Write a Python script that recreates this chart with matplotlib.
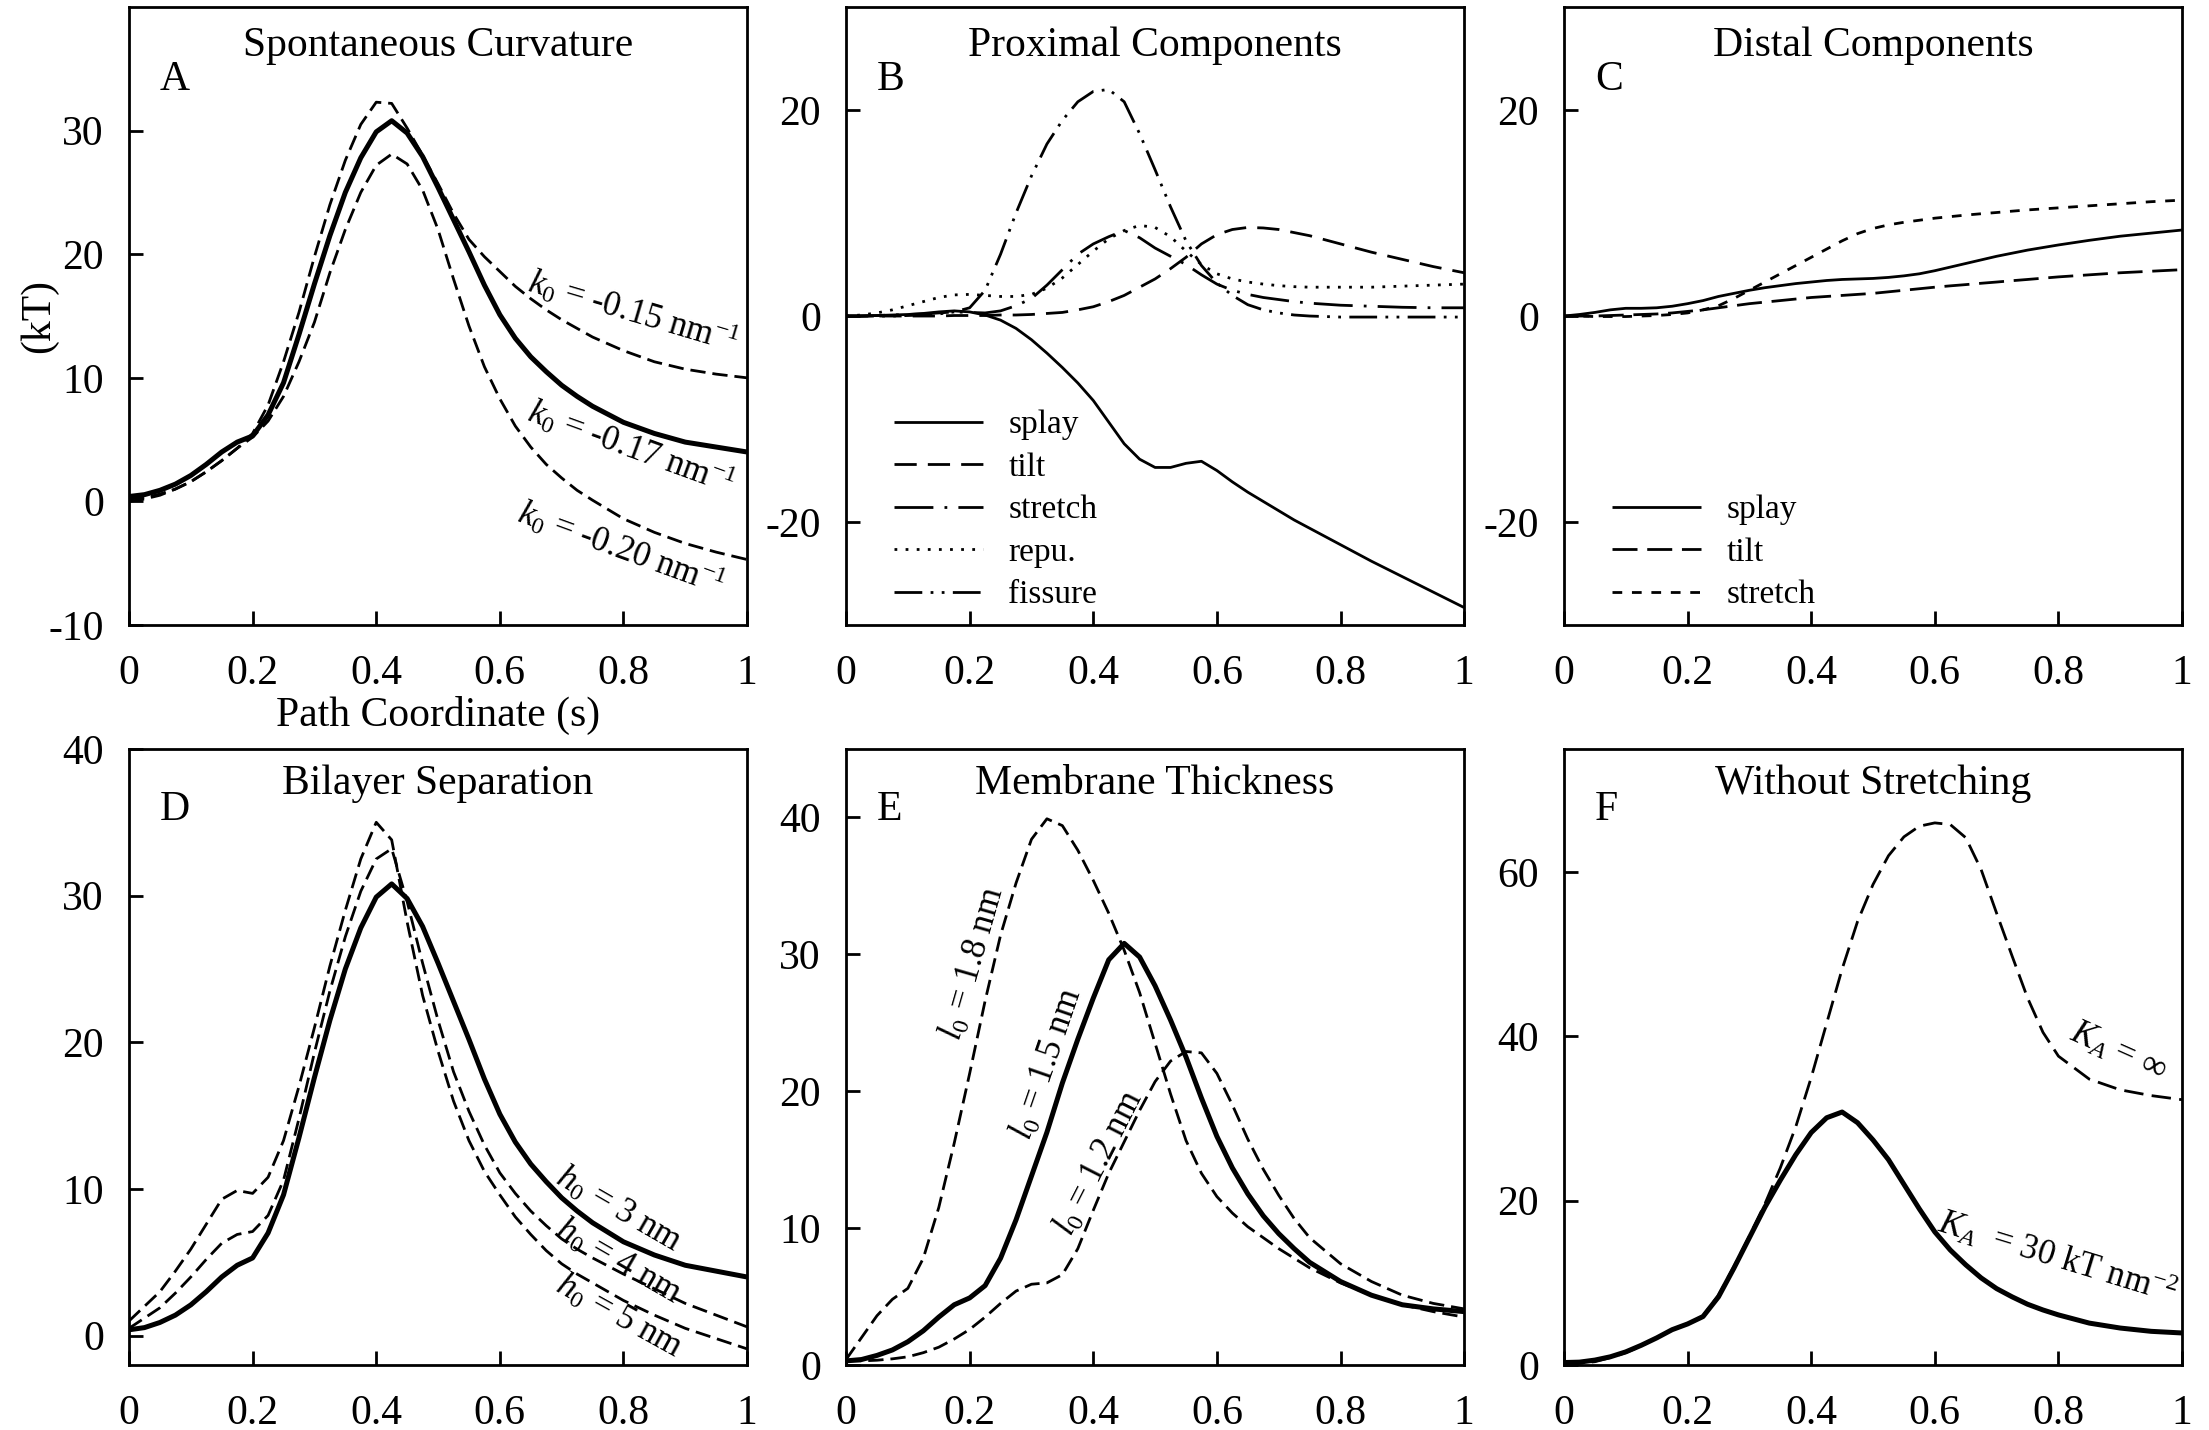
import matplotlib
matplotlib.use("Agg")
import matplotlib.pyplot as plt

plt.rcParams.update({
    "font.family": "Liberation Serif",
    "mathtext.fontset": "custom",
    "mathtext.rm": "Liberation Serif",
    "mathtext.it": "Liberation Serif:italic",
    "mathtext.bf": "Liberation Serif:bold",
    "lines.scale_dashes": False,
    "axes.linewidth": 2.0,
    "lines.solid_capstyle": "butt",
    "lines.dash_capstyle": "butt",
    "lines.solid_joinstyle": "round",
})

# ---------------------------------------------------------------- data
# path coordinate grid shared by panels A-E
s = [0, .025, .05, .075, .1, .125, .15, .175, .2, .225, .25, .275, .3, .325,
     .35, .375, .4, .425, .45, .475, .5, .525, .55, .575, .6, .625, .65, .675,
     .7, .725, .75, .8, .85, .9, .95, 1.0]

# A / D: reference free-energy profile (k0 = -0.17 nm^-1, h0 = 3 nm)
ref = [0.4, 0.55, 0.9, 1.4, 2.1, 3.0, 4.0, 4.8, 5.3, 7.0, 9.6, 13.5, 17.6, 21.5,
       25.0, 27.8, 29.9, 30.8, 29.8, 27.9, 25.4, 22.8, 20.2, 17.5, 15.1, 13.2, 11.7, 10.5,
       9.4, 8.5, 7.7, 6.4, 5.5, 4.8, 4.4, 4.0]
k015 = [0.0, 0.2, 0.5, 1.0, 1.6, 2.4, 3.3, 4.3, 5.5, 7.8, 11.3, 15.3, 19.8, 24.0,
        27.6, 30.5, 32.3, 32.2, 30.2, 28.0, 25.7, 23.3, 21.2, 19.8, 18.6, 17.4, 16.4, 15.5,
        14.7, 14.0, 13.3, 12.2, 11.3, 10.7, 10.3, 10.0]
k020 = [0.2, 0.3, 0.6, 1.0, 1.6, 2.4, 3.3, 4.3, 5.2, 6.5, 8.5, 11.3, 14.5, 18.5,
        22.0, 25.0, 27.2, 28.1, 27.3, 25.2, 22.0, 18.0, 14.2, 10.9, 8.3, 6.1, 4.4, 3.0,
        1.9, 0.9, 0.1, -1.4, -2.5, -3.4, -4.1, -4.7]

# B: proximal components
prox_splay = [0, 0, 0.05, 0.1, 0.15, 0.25, 0.4, 0.5, 0.4, 0.1, -0.4, -1.2, -2.3, -3.6,
              -5.0, -6.5, -8.2, -10.3, -12.4, -13.9, -14.7, -14.7, -14.3, -14.1, -15.0, -16.1, -17.1, -18.0,
              -18.9, -19.8, -20.6, -22.2, -23.8, -25.3, -26.8, -28.3]
prox_tilt = [0, 0, 0, 0, 0, 0, 0, 0.05, 0.05, 0.05, 0.1, 0.1, 0.15, 0.25,
             0.35, 0.6, 0.9, 1.4, 2.0, 2.8, 3.6, 4.6, 5.7, 7.0, 7.9, 8.4, 8.6, 8.55,
             8.4, 8.1, 7.8, 7.0, 6.2, 5.5, 4.8, 4.2]
prox_stretch = [0, 0, 0.05, 0.1, 0.15, 0.2, 0.3, 0.4, 0.35, 0.3, 0.5, 1.0, 1.7, 3.0,
                4.5, 6.0, 7.0, 7.7, 8.3, 7.6, 6.6, 5.8, 5.0, 4.0, 3.1, 2.5, 2.1, 1.8,
                1.6, 1.4, 1.25, 1.05, 0.95, 0.85, 0.8, 0.8]
prox_repu = [0, 0.1, 0.3, 0.6, 1.0, 1.4, 1.8, 2.05, 2.1, 2.0, 1.9, 1.9, 2.1, 2.7,
             3.7, 5.0, 6.3, 7.5, 8.3, 8.8, 8.6, 7.7, 6.3, 5.0, 4.1, 3.6, 3.3, 3.1,
             2.95, 2.85, 2.8, 2.8, 2.8, 2.9, 3.0, 3.1]
prox_fissure = [0, 0, 0, 0, 0.05, 0.1, 0.2, 0.4, 0.8, 2.5, 6.0, 10.0, 13.6, 16.7,
                19.0, 20.8, 21.8, 22.0, 20.8, 17.7, 14.2, 10.6, 7.3, 4.9, 3.2, 2.0, 1.1, 0.6,
                0.3, 0.1, 0.0, -0.1, -0.1, -0.1, -0.1, -0.1]

# C: distal components
dist_splay = [0, 0.15, 0.35, 0.6, 0.75, 0.75, 0.8, 0.95, 1.2, 1.5, 1.9, 2.2, 2.5, 2.75,
              2.95, 3.15, 3.3, 3.45, 3.55, 3.6, 3.65, 3.75, 3.9, 4.1, 4.4, 4.75, 5.1, 5.45,
              5.8, 6.1, 6.4, 6.9, 7.35, 7.75, 8.05, 8.35]
dist_tilt = [0, 0, 0, 0.05, 0.1, 0.15, 0.2, 0.3, 0.45, 0.6, 0.8, 1.0, 1.2, 1.35,
             1.5, 1.65, 1.8, 1.9, 2.0, 2.1, 2.2, 2.35, 2.5, 2.65, 2.8, 2.93, 3.05, 3.18,
             3.3, 3.43, 3.55, 3.8, 4.0, 4.2, 4.35, 4.5]
dist_stretch = [0, 0, -0.05, -0.05, -0.05, 0, 0.05, 0.15, 0.3, 0.6, 1.0, 1.7, 2.5, 3.3,
                4.1, 4.9, 5.7, 6.5, 7.3, 8.0, 8.5, 8.85, 9.1, 9.3, 9.5, 9.65, 9.8, 9.93,
                10.05, 10.18, 10.3, 10.5, 10.7, 10.9, 11.1, 11.25]

# D: bilayer separation
h4 = [0.5, 1.2, 1.9, 2.9, 4.0, 5.2, 6.3, 6.9, 7.1, 8.2, 10.6, 14.8, 19.3, 23.5,
      27.2, 30.3, 32.5, 33.2, 29.6, 25.4, 21.5, 18.0, 15.3, 13.0, 11.1, 9.7, 8.5, 7.5,
      6.6, 5.9, 5.3, 4.2, 3.2, 2.2, 1.4, 0.6]
h5 = [1.0, 2.0, 3.0, 4.4, 5.9, 7.6, 9.3, 9.9, 9.7, 10.8, 13.3, 17.0, 21.0, 25.2,
      29.0, 32.5, 35.0, 33.8, 28.2, 23.2, 19.4, 16.0, 13.3, 11.2, 9.6, 8.1, 6.9, 5.8,
      4.9, 4.2, 3.6, 2.4, 1.4, 0.5, -0.2, -0.9]

# E: membrane thickness
l15 = [0.3, 0.4, 0.7, 1.1, 1.7, 2.5, 3.5, 4.4, 4.9, 5.8, 7.8, 10.6, 13.8, 17.0,
       20.6, 23.8, 26.8, 29.6, 30.8, 29.8, 27.7, 25.2, 22.5, 19.5, 16.7, 14.4, 12.5, 10.9,
       9.6, 8.5, 7.5, 6.1, 5.1, 4.4, 4.1, 3.9]
l18 = [0.4, 2.0, 3.6, 4.8, 5.6, 7.8, 11.5, 16.2, 21.3, 26.6, 31.4, 35.2, 38.4, 39.9,
       39.4, 37.6, 35.4, 33.0, 30.3, 27.2, 23.5, 19.8, 16.4, 14.0, 12.3, 11.1, 10.1, 9.3,
       8.5, 7.8, 7.1, 6.0, 5.1, 4.4, 3.9, 3.5]
l12 = [0.3, 0.3, 0.35, 0.45, 0.6, 0.9, 1.3, 1.9, 2.6, 3.5, 4.5, 5.4, 5.9, 6.0,
       6.6, 8.5, 11.3, 14.0, 16.3, 18.6, 20.7, 22.2, 22.9, 22.8, 21.3, 19.0, 16.5, 14.3,
       12.4, 10.7, 9.3, 7.4, 6.1, 5.1, 4.5, 4.1]

# F: without stretching
s_f = [0, .025, .05, .075, .1, .125, .15, .175, .2, .225, .25, .275, .3, .325,
       .35, .375, .4, .425, .45, .475, .5, .525, .55, .575, .6, .625, .65, .675,
       .7, .725, .75, .775, .8, .85, .9, .95, 1.0]
ka30 = [0.3, 0.35, 0.6, 1.0, 1.6, 2.4, 3.3, 4.3, 5.0, 5.9, 8.3, 11.8, 15.5, 19.2,
        22.5, 25.6, 28.3, 30.1, 30.8, 29.5, 27.4, 25.0, 22.0, 19.0, 16.2, 14.0, 12.2, 10.6,
        9.3, 8.3, 7.4, 6.7, 6.1, 5.1, 4.5, 4.1, 3.9]
kainf = [0.1, 0.2, 0.4, 0.9, 1.5, 2.3, 3.3, 4.3, 5.0, 6.0, 8.5, 12.0, 15.7, 19.6,
         24.0, 29.0, 35.0, 41.6, 48.2, 54.0, 58.5, 62.0, 64.3, 65.6, 66.0, 65.8, 64.2, 60.3,
         55.0, 49.8, 44.7, 40.5, 37.6, 34.8, 33.5, 32.8, 32.3]

xticks = [0, 0.2, 0.4, 0.6, 0.8, 1.0]
xtick_labels = ["0", "0.2", "0.4", "0.6", "0.8", "1"]

# ---------------------------------------------------------------- styles
THICK = 3.6
THIN = 2.0
DASH = (11, 5)

fig = plt.figure(figsize=(22.09, 14.30), dpi=100)
W, H = 0.2798, 0.4322
lefts = [0.0584, 0.3830, 0.7080]
axA = fig.add_axes([lefts[0], 0.5629, W, H])
axB = fig.add_axes([lefts[1], 0.5629, W, H])
axC = fig.add_axes([lefts[2], 0.5629, W, H])
axD = fig.add_axes([lefts[0], 0.04545, W, 0.4308])
axE = fig.add_axes([lefts[1], 0.04545, W, 0.4308])
axF = fig.add_axes([lefts[2], 0.04545, W, 0.4308])


def frame(ax, ylim, yticks, title, letter, ty, ly):
    ax.set_xlim(0, 1)
    ax.set_ylim(*ylim)
    ax.set_xticks(xticks, labels=xtick_labels)
    ax.set_yticks(yticks, labels=[str(v) for v in yticks])
    ax.tick_params(direction="in", length=10, width=2, labelsize=30,
                   top=False, right=False)
    ax.tick_params(axis="x", pad=21)
    ax.tick_params(axis="y", pad=18)
    ax.text(0.5, ty, title, transform=ax.transAxes, ha="center",
            va="baseline", fontsize=30)
    ax.text(0.05, ly, letter, transform=ax.transAxes, ha="left",
            va="baseline", fontsize=30)


def note(ax, text, x, y, rot, size=25):
    ax.text(x, y, text, rotation=rot, rotation_mode="anchor", ha="center",
            va="center", fontsize=size)


def key(ax, handles):
    ax.legend(handles=handles, loc="lower left", bbox_to_anchor=(0.078, 0.024),
              frameon=False, fontsize=24, handlelength=2.67, handletextpad=0.75,
              labelspacing=0.36, borderpad=0, borderaxespad=0)


# A: spontaneous curvature
axA.plot(s, k015, color="k", lw=THIN, dashes=DASH)
axA.plot(s, k020, color="k", lw=THIN, dashes=DASH)
axA.plot(s, ref, color="k", lw=THICK)
frame(axA, (-10, 40), [-10, 0, 10, 20, 30], "Spontaneous Curvature", "A", 0.921, 0.866)
axA.set_ylabel("(kT)", fontsize=30)
axA.yaxis.set_label_coords(-0.114, 0.5)
axA.set_xlabel("Path Coordinate (s)", fontsize=30)
axA.xaxis.set_label_coords(0.5, -0.115)
note(axA, r"$k_0$ = -0.15 nm$^{-1}$", 0.816, 15.35, -16.5)
note(axA, r"$k_0$ = -0.17 nm$^{-1}$", 0.812, 4.4, -20)
note(axA, r"$k_0$ = -0.20 nm$^{-1}$", 0.796, -3.8, -20)

# B: proximal components
b_styles = [
    ("splay", prox_splay, dict(ls="-")),
    ("tilt", prox_tilt, dict(dashes=(16, 8))),
    ("stretch", prox_stretch, dict(dashes=(28, 8, 2, 8))),
    ("repu.", prox_repu, dict(dashes=(2, 6))),
    ("fissure", prox_fissure, dict(dashes=(20, 6, 2, 6, 2, 6))),
]
handles = []
for name, vals, st in b_styles:
    line, = axB.plot(s, vals, color="k", lw=THIN, label=name, **st)
    handles.append(line)
frame(axB, (-30, 30), [-20, 0, 20], "Proximal Components", "B", 0.921, 0.866)
key(axB, handles)

# C: distal components
c_styles = [
    ("splay", dist_splay, dict(ls="-")),
    ("tilt", dist_tilt, dict(dashes=(18, 7))),
    ("stretch", dist_stretch, dict(dashes=(7, 7))),
]
handles = []
for name, vals, st in c_styles:
    line, = axC.plot(s, vals, color="k", lw=THIN, label=name, **st)
    handles.append(line)
frame(axC, (-30, 30), [-20, 0, 20], "Distal Components", "C", 0.921, 0.866)
key(axC, handles)

# D: bilayer separation
axD.plot(s, h5, color="k", lw=THIN, dashes=DASH)
axD.plot(s, h4, color="k", lw=THIN, dashes=DASH)
axD.plot(s, ref, color="k", lw=THICK)
frame(axD, (-2, 40), [0, 10, 20, 30, 40], "Bilayer Separation", "D", 0.927, 0.885)
note(axD, r"$h_0$ = 3 nm", 0.792, 8.6, -30)
note(axD, r"$h_0$ = 4 nm", 0.792, 5.0, -30)
note(axD, r"$h_0$ = 5 nm", 0.792, 1.3, -29)

# E: membrane thickness
axE.plot(s, l18, color="k", lw=THIN, dashes=DASH)
axE.plot(s, l12, color="k", lw=THIN, dashes=DASH)
axE.plot(s, l15, color="k", lw=THICK)
frame(axE, (0, 45), [0, 10, 20, 30, 40], "Membrane Thickness", "E", 0.927, 0.885)
note(axE, r"$l_0$ = 1.8 nm", 0.206, 29.3, 74)
note(axE, r"$l_0$ = 1.5 nm", 0.325, 22.0, 71)
note(axE, r"$l_0$ = 1.2 nm", 0.41, 14.7, 63)

# F: without stretching
axF.plot(s_f, kainf, color="k", lw=THIN, dashes=(14, 6))
axF.plot(s_f, ka30, color="k", lw=THICK)
frame(axF, (0, 75), [0, 20, 40, 60], "Without Stretching", "F", 0.927, 0.885)
note(axF, r"$K_A$ = $\infty$", 0.896, 38.0, -24)
note(axF, r"$K_A$  = 30 kT nm$^{-2}$", 0.798, 13.2, -17)

fig.savefig("out.png", dpi=100)
